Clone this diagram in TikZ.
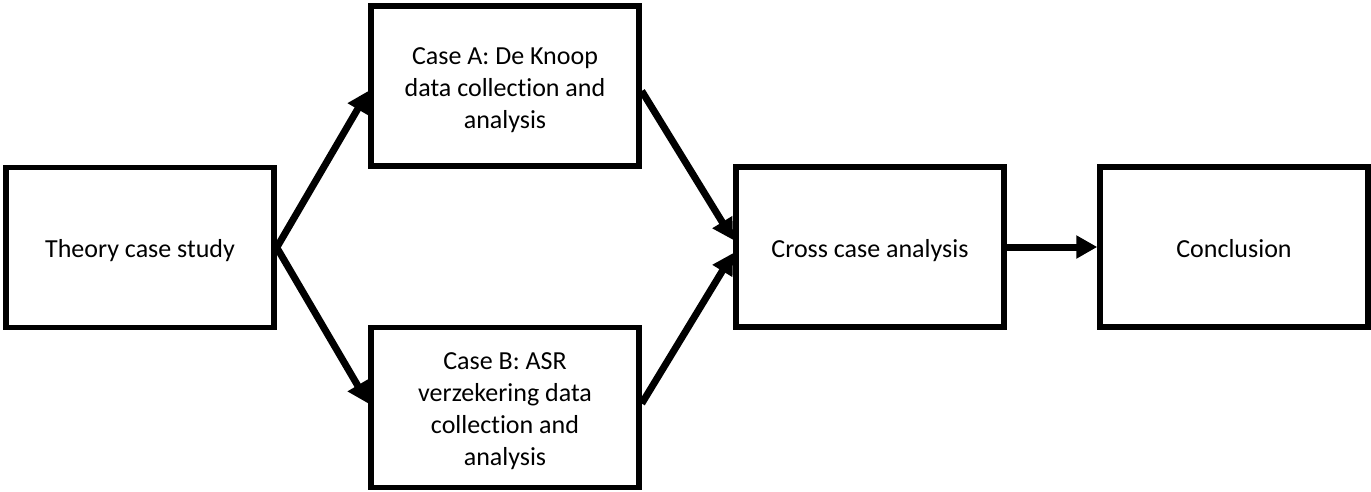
\documentclass[tikz,border=0pt]{standalone}
\usepackage{fontspec}
\setmainfont{Carlito}[RawFeature={-liga;-clig;-calt;-dlig}]
\usetikzlibrary{arrows.meta}
\newcommand{\boxtext}[1]{\raisebox{-4pt}[\height][\depth]{\begin{tabular}{@{}c@{}}#1\end{tabular}}}
\begin{document}
\begin{tikzpicture}[x=1pt,y=-1pt,
  box/.style={draw=black,line width=5.5pt,minimum width=268pt,minimum height=160pt,
    inner sep=0pt,font=\fontsize{26}{32}\selectfont},
  conn/.style={line width=7pt,-{Triangle[length=21pt,width=22pt]}}]
\useasboundingbox (0,0) rectangle (1371,491);
\node[box] (theory) at (140,247.5) {\boxtext{Theory case study}};
\node[box] (casea) at (505,86) {\boxtext{Case A: De Knoop\\data collection and\\analysis}};
\node[box] (caseb) at (505,407.5) {\boxtext{Case B: ASR\\verzekering data\\collection and\\analysis}};
\node[box] (cross) at (870,247) {\boxtext{Cross case analysis}};
\node[box] (concl) at (1234,247) {\boxtext{Conclusion}};
\draw[conn] (theory.east) -- ([yshift=-5pt]casea.west);
\draw[conn] (theory.east) -- ([yshift=4pt]caseb.west);
\draw[conn] ([yshift=-5pt]casea.east) -- ([yshift=7pt]cross.west);
\draw[conn] ([yshift=4pt]caseb.east) -- ([yshift=-6pt]cross.west);
\draw[conn] (cross.east) -- (concl.west);
\end{tikzpicture}
\end{document}
